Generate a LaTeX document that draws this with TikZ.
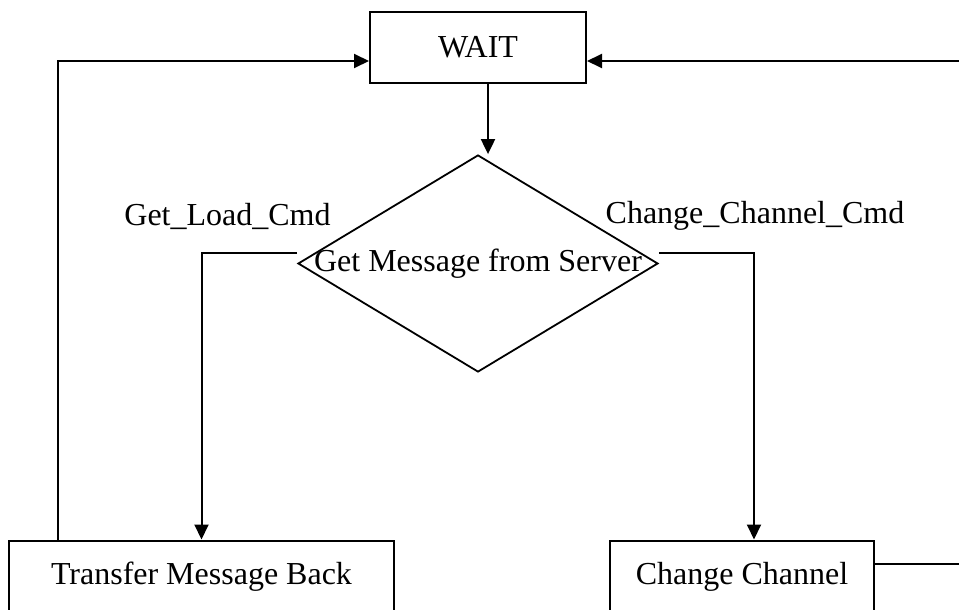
\documentclass[tikz,border=0pt]{standalone}
\usepackage{fontspec}
\setmainfont{Liberation Serif}
\usetikzlibrary{shapes.geometric,arrows.meta}
\begin{document}
\begin{tikzpicture}[x=1pt,y=-1pt,
  every node/.style={font=\fontsize{32}{36}\selectfont},
  box/.style={draw,line width=2pt,rectangle,inner sep=0pt},
  conn/.style={line width=2pt},
  arr/.style={conn,-{Triangle[length=15pt,width=14pt]}}]
\useasboundingbox (0,0) rectangle (959,610);
\clip (0,0) rectangle (959,610);

% boxes
\node[box,minimum width=216pt,minimum height=71pt] (wait) at (478,47.5) {WAIT};
\node[draw,line width=1.8pt,diamond,minimum width=360pt,minimum height=217pt,inner sep=0pt] (dec) at (478,263.5) {};
\node (dectext) at (478,264) {Get Message from Server};
\node[box,minimum width=385pt,minimum height=73pt] (transfer) at (201.5,577) {Transfer Message Back};
\node[box,minimum width=264pt,minimum height=73pt] (change) at (742,577) {Change Channel};

% branch labels
\node (lload) at (227.5,216) {Get\_Load\_Cmd};
\node (lchan) at (755,216) {Change\_Channel\_Cmd};

% off-edge return path on the right
\coordinate (rlow) at (968,564);
\coordinate (rhigh) at (968,61);

% connectors
\draw[arr] ([xshift=10pt]wait.south) -- ([xshift=10pt]wait.south |- dec.north);
\draw[arr] ([yshift=11pt]dec.west) -| (transfer.north);
\draw[arr] ([yshift=11pt]dec.east) -| ([xshift=12pt]change.north);
\draw[arr] ([xshift=-143.5pt]transfer.north) |- ([yshift=-13.5pt]wait.west);
\draw[conn] ([yshift=13pt]change.east) -- (rlow) -- (rhigh);
\draw[arr] (rhigh) -- ([yshift=-13.5pt]wait.east);
\end{tikzpicture}
\end{document}
